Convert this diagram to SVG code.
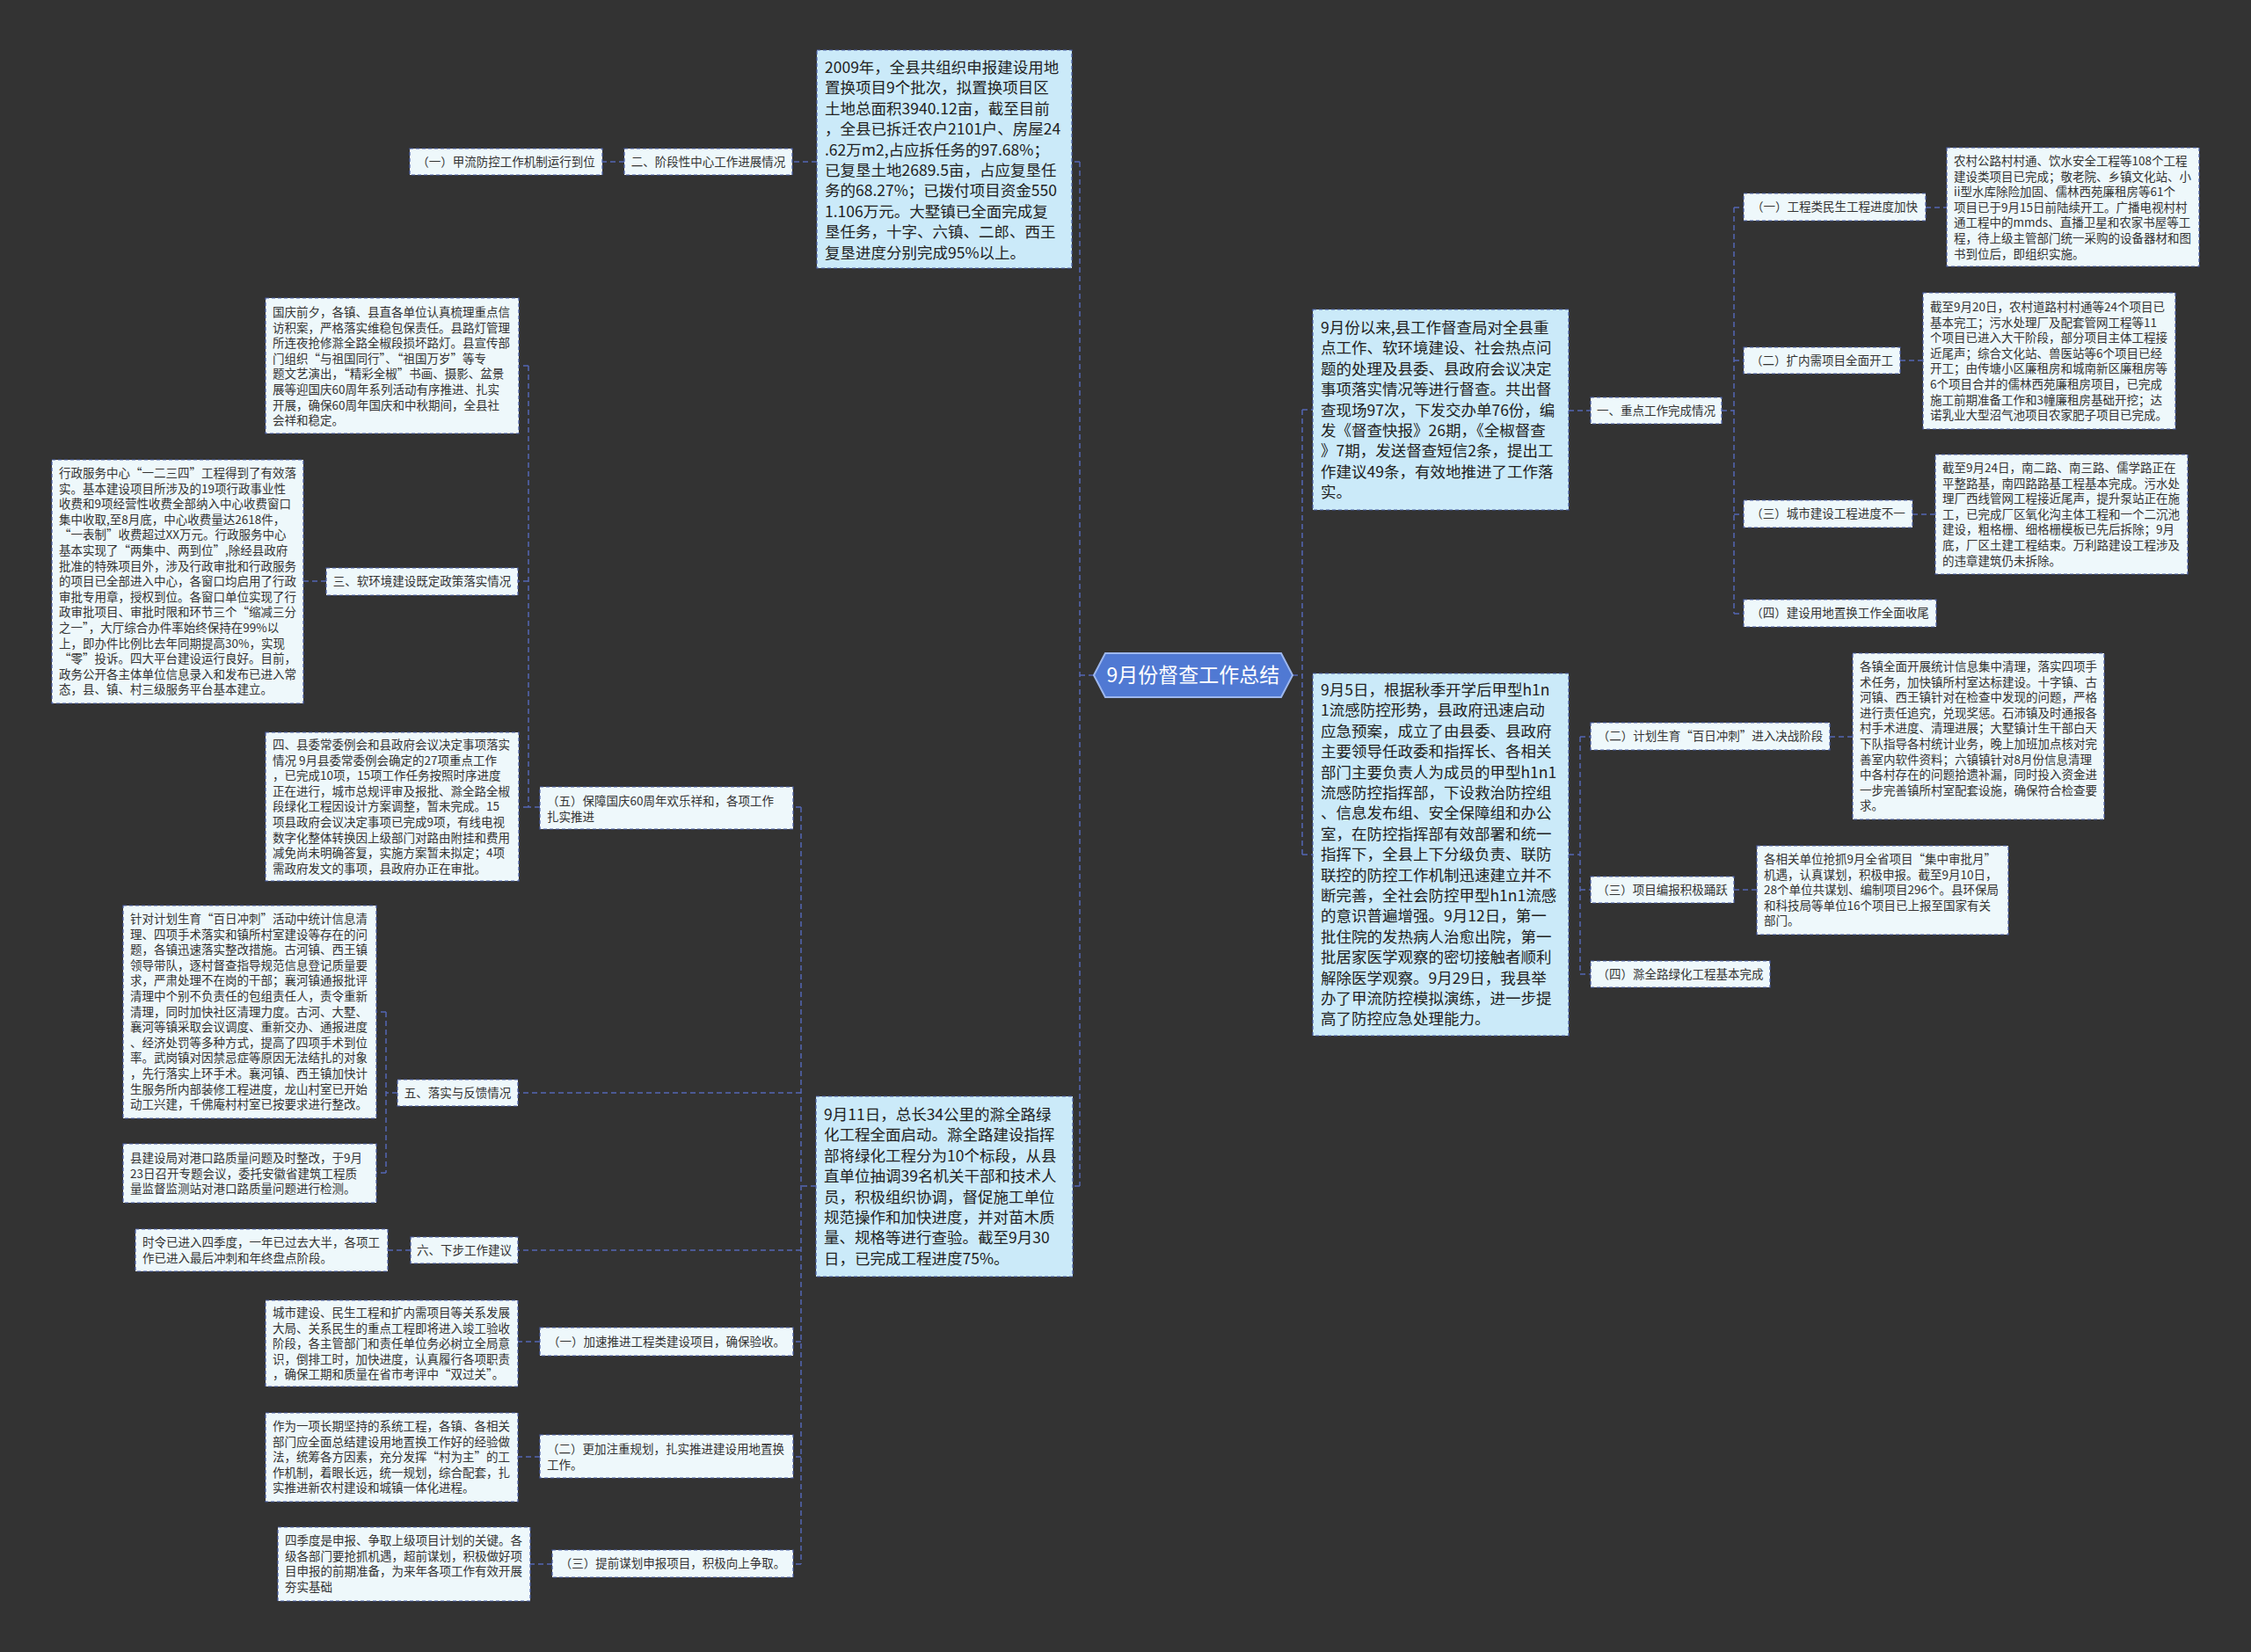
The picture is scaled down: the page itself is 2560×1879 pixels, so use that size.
<svg xmlns="http://www.w3.org/2000/svg" width="2560" height="1879" viewBox="0 0 2560 1879">
<style>
.box{stroke:#4a5ea6;stroke-width:1.2;stroke-dasharray:4 3}
.big{fill:#cbeaf9}
.sm{fill:#eef8fb}
text{font-family:"Noto Sans CJK SC","Noto Sans",sans-serif}
.tb{font-size:17.5px;fill:#222}
.ts{font-size:13.5px;fill:#333}
.tl{font-size:13.5px;fill:#333;text-anchor:middle}
.conn path{fill:none;stroke:#5467b5;stroke-width:1.5;stroke-dasharray:6 4}
</style>
<rect width="2560" height="1879" fill="#333333"/>

<g class="conn">
<path d="M1244,768 H1228 M1228,184 V1349 M1228,184 H1219 M1228,1349 H1220"/>
<path d="M929,184 H901 M710,184 H685"/>
<path d="M928,1349 H911 M911,918 V1779 M911,918 H902 M911,1243 H589 M911,1422 H589 M911,1526 H902 M911,1657 H902 M911,1779 H902"/>
<path d="M614,918 H601 M601,416 V918 M601,416 H590 M601,661 H589 M601,918 H590"/>
<path d="M371,661 H345"/>
<path d="M452,1243 H439 M439,1151 V1334 M439,1151 H428 M439,1334 H428"/>
<path d="M467,1422 H441"/>
<path d="M614,1526 H589 M614,1657 H589 M628,1779 H603"/>
<path d="M1470,768 H1481 M1481,466 V972 M1481,466 H1493 M1481,972 H1493"/>
<path d="M1784,467 H1809 M1958,467 H1972 M1972,236 V698 M1972,236 H1983 M1972,410 H1983 M1972,585 H1983 M1972,698 H1983"/>
<path d="M2190,236 H2214 M2161,410 H2187 M2175,585 H2201"/>
<path d="M1784,972 H1797 M1797,838 V1108 M1797,838 H1809 M1797,1012 H1809 M1797,1108 H1809"/>
<path d="M2081,838 H2107 M1972,1012 H1998"/>
</g>

<g id="center">
<path d="M1244,768 L1257,743 H1457 L1470,768 L1457,793 H1257 Z" fill="#5079d3" stroke="#9db7ee" stroke-width="2"/>
<text x="1357" y="776" font-size="23" fill="#ffffff" text-anchor="middle">9月份督查工作总结</text>
</g>

<g id="n2009">
<rect class="box big" x="929" y="57" width="290" height="248"/>
<text class="tb" x="938" y="83"><tspan x="938" dy="0">2009年，全县共组织申报建设用地</tspan><tspan x="938" dy="23.4">置换项目9个批次，拟置换项目区</tspan><tspan x="938" dy="23.4">土地总面积3940.12亩，截至目前</tspan><tspan x="938" dy="23.4">，全县已拆迁农户2101户、房屋24</tspan><tspan x="938" dy="23.4">.62万m2,占应拆任务的97.68%；</tspan><tspan x="938" dy="23.4">已复垦土地2689.5亩，占应复垦任</tspan><tspan x="938" dy="23.4">务的68.27%；已拨付项目资金550</tspan><tspan x="938" dy="23.4">1.106万元。大墅镇已全面完成复</tspan><tspan x="938" dy="23.4">垦任务，十字、六镇、二郎、西王</tspan><tspan x="938" dy="23.4">复垦进度分别完成95%以上。</tspan></text>
</g>

<g id="l-er">
<rect class="box sm" x="710" y="169" width="191" height="30"/>
<text class="tl" x="805.5" y="189">二、阶段性中心工作进展情况</text>
</g>
<g id="l-yi-jialiu">
<rect class="box sm" x="466" y="169" width="219" height="30"/>
<text class="tl" x="575.5" y="189">（一）甲流防控工作机制运行到位</text>
</g>

<g id="d-guoqing">
<rect class="box sm" x="302" y="339" width="288" height="154"/>
<text class="ts" x="310" y="360"><tspan x="310" dy="0">国庆前夕，各镇、县直各单位认真梳理重点信</tspan><tspan x="310" dy="17.6">访积案，严格落实维稳包保责任。县路灯管理</tspan><tspan x="310" dy="17.6">所连夜抢修滁全路全椒段损坏路灯。县宣传部</tspan><tspan x="310" dy="17.6">门组织“与祖国同行”、“祖国万岁”等专</tspan><tspan x="310" dy="17.6">题文艺演出，“精彩全椒”书画、摄影、盆景</tspan><tspan x="310" dy="17.6">展等迎国庆60周年系列活动有序推进、扎实</tspan><tspan x="310" dy="17.6">开展，确保60周年国庆和中秋期间，全县社</tspan><tspan x="310" dy="17.6">会祥和稳定。</tspan></text>
</g>

<g id="l-san">
<rect class="box sm" x="371" y="646" width="218" height="31"/>
<text class="tl" x="480" y="666">三、软环境建设既定政策落实情况</text>
</g>
<g id="d-xingzheng">
<rect class="box sm" x="59" y="523" width="286" height="277"/>
<text class="ts" x="67" y="543"><tspan x="67" dy="0">行政服务中心“一二三四”工程得到了有效落</tspan><tspan x="67" dy="17.6">实。基本建设项目所涉及的19项行政事业性</tspan><tspan x="67" dy="17.6">收费和9项经营性收费全部纳入中心收费窗口</tspan><tspan x="67" dy="17.6">集中收取,至8月底，中心收费量达2618件，</tspan><tspan x="67" dy="17.6">“一表制”收费超过XX万元。行政服务中心</tspan><tspan x="67" dy="17.6">基本实现了“两集中、两到位”,除经县政府</tspan><tspan x="67" dy="17.6">批准的特殊项目外，涉及行政审批和行政服务</tspan><tspan x="67" dy="17.6">的项目已全部进入中心，各窗口均启用了行政</tspan><tspan x="67" dy="17.6">审批专用章，授权到位。各窗口单位实现了行</tspan><tspan x="67" dy="17.6">政审批项目、审批时限和环节三个“缩减三分</tspan><tspan x="67" dy="17.6">之一”，大厅综合办件率始终保持在99%以</tspan><tspan x="67" dy="17.6">上，即办件比例比去年同期提高30%，实现</tspan><tspan x="67" dy="17.6">“零”投诉。四大平台建设运行良好。目前，</tspan><tspan x="67" dy="17.6">政务公开各主体单位信息录入和发布已进入常</tspan><tspan x="67" dy="17.6">态，县、镇、村三级服务平台基本建立。</tspan></text>
</g>

<g id="d-si">
<rect class="box sm" x="302" y="833" width="288" height="169"/>
<text class="ts" x="310" y="852"><tspan x="310" dy="0">四、县委常委例会和县政府会议决定事项落实</tspan><tspan x="310" dy="17.6">情况 9月县委常委例会确定的27项重点工作</tspan><tspan x="310" dy="17.6">，已完成10项，15项工作任务按照时序进度</tspan><tspan x="310" dy="17.6">正在进行，城市总规评审及报批、滁全路全椒</tspan><tspan x="310" dy="17.6">段绿化工程因设计方案调整，暂未完成。15</tspan><tspan x="310" dy="17.6">项县政府会议决定事项已完成9项，有线电视</tspan><tspan x="310" dy="17.6">数字化整体转换因上级部门对路由附挂和费用</tspan><tspan x="310" dy="17.6">减免尚未明确答复，实施方案暂未拟定；4项</tspan><tspan x="310" dy="17.6">需政府发文的事项，县政府办正在审批。</tspan></text>
</g>

<g id="l-wu-guoqing">
<rect class="box sm" x="614" y="895" width="288" height="48"/>
<text class="ts" x="622" y="916"><tspan x="622" dy="0">（五）保障国庆60周年欢乐祥和，各项工作</tspan><tspan x="622" dy="17.6">扎实推进</tspan></text>
</g>

<g id="l-wu-luoshi">
<rect class="box sm" x="452" y="1228" width="137" height="30"/>
<text class="tl" x="520.5" y="1248">五、落实与反馈情况</text>
</g>
<g id="d-jihua">
<rect class="box sm" x="140" y="1030" width="288" height="242"/>
<text class="ts" x="148" y="1050"><tspan x="148" dy="0">针对计划生育“百日冲刺”活动中统计信息清</tspan><tspan x="148" dy="17.6">理、四项手术落实和镇所村室建设等存在的问</tspan><tspan x="148" dy="17.6">题，各镇迅速落实整改措施。古河镇、西王镇</tspan><tspan x="148" dy="17.6">领导带队，逐村督查指导规范信息登记质量要</tspan><tspan x="148" dy="17.6">求，严肃处理不在岗的干部；襄河镇通报批评</tspan><tspan x="148" dy="17.6">清理中个别不负责任的包组责任人，责令重新</tspan><tspan x="148" dy="17.6">清理，同时加快社区清理力度。古河、大墅、</tspan><tspan x="148" dy="17.6">襄河等镇采取会议调度、重新交办、通报进度</tspan><tspan x="148" dy="17.6">、经济处罚等多种方式，提高了四项手术到位</tspan><tspan x="148" dy="17.6">率。武岗镇对因禁忌症等原因无法结扎的对象</tspan><tspan x="148" dy="17.6">，先行落实上环手术。襄河镇、西王镇加快计</tspan><tspan x="148" dy="17.6">生服务所内部装修工程进度，龙山村室已开始</tspan><tspan x="148" dy="17.6">动工兴建，千佛庵村村室已按要求进行整改。</tspan></text>
</g>
<g id="d-jianshe">
<rect class="box sm" x="140" y="1301" width="288" height="67"/>
<text class="ts" x="148" y="1322"><tspan x="148" dy="0">县建设局对港口路质量问题及时整改，于9月</tspan><tspan x="148" dy="17.6">23日召开专题会议，委托安徽省建筑工程质</tspan><tspan x="148" dy="17.6">量监督监测站对港口路质量问题进行检测。</tspan></text>
</g>

<g id="l-liu">
<rect class="box sm" x="467" y="1407" width="122" height="30"/>
<text class="tl" x="528" y="1427">六、下步工作建议</text>
</g>
<g id="d-shiling">
<rect class="box sm" x="154" y="1398" width="287" height="48"/>
<text class="ts" x="162" y="1418"><tspan x="162" dy="0">时令已进入四季度，一年已过去大半，各项工</tspan><tspan x="162" dy="17.6">作已进入最后冲刺和年终盘点阶段。</tspan></text>
</g>

<g id="l-yi-jiasu">
<rect class="box sm" x="614" y="1510" width="288" height="32"/>
<text class="tl" x="758" y="1531">（一）加速推进工程类建设项目，确保验收。</text>
</g>
<g id="d-chengshi">
<rect class="box sm" x="302" y="1479" width="287" height="98"/>
<text class="ts" x="310" y="1498"><tspan x="310" dy="0">城市建设、民生工程和扩内需项目等关系发展</tspan><tspan x="310" dy="17.6">大局、关系民生的重点工程即将进入竣工验收</tspan><tspan x="310" dy="17.6">阶段，各主管部门和责任单位务必树立全局意</tspan><tspan x="310" dy="17.6">识，倒排工时，加快进度，认真履行各项职责</tspan><tspan x="310" dy="17.6">，确保工期和质量在省市考评中“双过关”。</tspan></text>
</g>

<g id="l-er-guihua">
<rect class="box sm" x="614" y="1632" width="288" height="49"/>
<text class="ts" x="622" y="1653"><tspan x="622" dy="0">（二）更加注重规划，扎实推进建设用地置换</tspan><tspan x="622" dy="17.6">工作。</tspan></text>
</g>
<g id="d-zuowei">
<rect class="box sm" x="302" y="1607" width="287" height="101"/>
<text class="ts" x="310" y="1627"><tspan x="310" dy="0">作为一项长期坚持的系统工程，各镇、各相关</tspan><tspan x="310" dy="17.6">部门应全面总结建设用地置换工作好的经验做</tspan><tspan x="310" dy="17.6">法，统筹各方因素，充分发挥“村为主”的工</tspan><tspan x="310" dy="17.6">作机制，着眼长远，统一规划，综合配套，扎</tspan><tspan x="310" dy="17.6">实推进新农村建设和城镇一体化进程。</tspan></text>
</g>

<g id="l-san-tiqian">
<rect class="box sm" x="628" y="1763" width="274" height="31"/>
<text class="tl" x="765" y="1783">（三）提前谋划申报项目，积极向上争取。</text>
</g>
<g id="d-sijidu">
<rect class="box sm" x="316" y="1737" width="287" height="84"/>
<text class="ts" x="324" y="1757"><tspan x="324" dy="0">四季度是申报、争取上级项目计划的关键。各</tspan><tspan x="324" dy="17.6">级各部门要抢抓机遇，超前谋划，积极做好项</tspan><tspan x="324" dy="17.6">目申报的前期准备，为来年各项工作有效开展</tspan><tspan x="324" dy="17.6">夯实基础</tspan></text>
</g>

<g id="n911">
<rect class="box big" x="928" y="1247" width="292" height="205"/>
<text class="tb" x="937" y="1274"><tspan x="937" dy="0">9月11日，总长34公里的滁全路绿</tspan><tspan x="937" dy="23.4">化工程全面启动。滁全路建设指挥</tspan><tspan x="937" dy="23.4">部将绿化工程分为10个标段，从县</tspan><tspan x="937" dy="23.4">直单位抽调39名机关干部和技术人</tspan><tspan x="937" dy="23.4">员，积极组织协调，督促施工单位</tspan><tspan x="937" dy="23.4">规范操作和加快进度，并对苗木质</tspan><tspan x="937" dy="23.4">量、规格等进行查验。截至9月30</tspan><tspan x="937" dy="23.4">日，已完成工程进度75%。</tspan></text>
</g>

<g id="n9yuefen">
<rect class="box big" x="1493" y="352" width="291" height="228"/>
<text class="tb" x="1502" y="379"><tspan x="1502" dy="0">9月份以来,县工作督查局对全县重</tspan><tspan x="1502" dy="23.4">点工作、软环境建设、社会热点问</tspan><tspan x="1502" dy="23.4">题的处理及县委、县政府会议决定</tspan><tspan x="1502" dy="23.4">事项落实情况等进行督查。共出督</tspan><tspan x="1502" dy="23.4">查现场97次，下发交办单76份，编</tspan><tspan x="1502" dy="23.4">发《督查快报》26期，《全椒督查</tspan><tspan x="1502" dy="23.4">》7期，发送督查短信2条，提出工</tspan><tspan x="1502" dy="23.4">作建议49条，有效地推进了工作落</tspan><tspan x="1502" dy="23.4">实。</tspan></text>
</g>

<g id="n95">
<rect class="box big" x="1493" y="766" width="291" height="412"/>
<text class="tb" x="1502" y="791"><tspan x="1502" dy="0">9月5日，根据秋季开学后甲型h1n</tspan><tspan x="1502" dy="23.4">1流感防控形势，县政府迅速启动</tspan><tspan x="1502" dy="23.4">应急预案，成立了由县委、县政府</tspan><tspan x="1502" dy="23.4">主要领导任政委和指挥长、各相关</tspan><tspan x="1502" dy="23.4">部门主要负责人为成员的甲型h1n1</tspan><tspan x="1502" dy="23.4">流感防控指挥部，下设救治防控组</tspan><tspan x="1502" dy="23.4">、信息发布组、安全保障组和办公</tspan><tspan x="1502" dy="23.4">室，在防控指挥部有效部署和统一</tspan><tspan x="1502" dy="23.4">指挥下，全县上下分级负责、联防</tspan><tspan x="1502" dy="23.4">联控的防控工作机制迅速建立并不</tspan><tspan x="1502" dy="23.4">断完善，全社会防控甲型h1n1流感</tspan><tspan x="1502" dy="23.4">的意识普遍增强。9月12日，第一</tspan><tspan x="1502" dy="23.4">批住院的发热病人治愈出院，第一</tspan><tspan x="1502" dy="23.4">批居家医学观察的密切接触者顺利</tspan><tspan x="1502" dy="23.4">解除医学观察。9月29日，我县举</tspan><tspan x="1502" dy="23.4">办了甲流防控模拟演练，进一步提</tspan><tspan x="1502" dy="23.4">高了防控应急处理能力。</tspan></text>
</g>

<g id="l-yi-zhongdian">
<rect class="box sm" x="1809" y="452" width="149" height="30"/>
<text class="tl" x="1883.5" y="472">一、重点工作完成情况</text>
</g>
<g id="l-r-yi">
<rect class="box sm" x="1983" y="220" width="207" height="31"/>
<text class="tl" x="2086.5" y="240">（一）工程类民生工程进度加快</text>
</g>
<g id="d-nongcun">
<rect class="box sm" x="2214" y="168" width="287" height="135"/>
<text class="ts" x="2222" y="188"><tspan x="2222" dy="0">农村公路村村通、饮水安全工程等108个工程</tspan><tspan x="2222" dy="17.6">建设类项目已完成；敬老院、乡镇文化站、小</tspan><tspan x="2222" dy="17.6">ii型水库除险加固、儒林西苑廉租房等61个</tspan><tspan x="2222" dy="17.6">项目已于9月15日前陆续开工。广播电视村村</tspan><tspan x="2222" dy="17.6">通工程中的mmds、直播卫星和农家书屋等工</tspan><tspan x="2222" dy="17.6">程，待上级主管部门统一采购的设备器材和图</tspan><tspan x="2222" dy="17.6">书到位后，即组织实施。</tspan></text>
</g>
<g id="l-r-er">
<rect class="box sm" x="1983" y="395" width="178" height="30"/>
<text class="tl" x="2072" y="415">（二）扩内需项目全面开工</text>
</g>
<g id="d-jiezhi20">
<rect class="box sm" x="2187" y="333" width="287" height="155"/>
<text class="ts" x="2195" y="354"><tspan x="2195" dy="0">截至9月20日，农村道路村村通等24个项目已</tspan><tspan x="2195" dy="17.6">基本完工；污水处理厂及配套管网工程等11</tspan><tspan x="2195" dy="17.6">个项目已进入大干阶段，部分项目主体工程接</tspan><tspan x="2195" dy="17.6">近尾声；综合文化站、兽医站等6个项目已经</tspan><tspan x="2195" dy="17.6">开工；由传塘小区廉租房和城南新区廉租房等</tspan><tspan x="2195" dy="17.6">6个项目合并的儒林西苑廉租房项目，已完成</tspan><tspan x="2195" dy="17.6">施工前期准备工作和3幢廉租房基础开挖；达</tspan><tspan x="2195" dy="17.6">诺乳业大型沼气池项目农家肥子项目已完成。</tspan></text>
</g>
<g id="l-r-san">
<rect class="box sm" x="1983" y="569" width="192" height="31"/>
<text class="tl" x="2079" y="589">（三）城市建设工程进度不一</text>
</g>
<g id="d-jiezhi24">
<rect class="box sm" x="2201" y="517" width="287" height="136"/>
<text class="ts" x="2209" y="537"><tspan x="2209" dy="0">截至9月24日，南二路、南三路、儒学路正在</tspan><tspan x="2209" dy="17.6">平整路基，南四路路基工程基本完成。污水处</tspan><tspan x="2209" dy="17.6">理厂西线管网工程接近尾声，提升泵站正在施</tspan><tspan x="2209" dy="17.6">工，已完成厂区氧化沟主体工程和一个二沉池</tspan><tspan x="2209" dy="17.6">建设，粗格栅、细格栅模板已先后拆除；9月</tspan><tspan x="2209" dy="17.6">底，厂区土建工程结束。万利路建设工程涉及</tspan><tspan x="2209" dy="17.6">的违章建筑仍未拆除。</tspan></text>
</g>
<g id="l-r-si">
<rect class="box sm" x="1983" y="682" width="219" height="31"/>
<text class="tl" x="2092.5" y="702">（四）建设用地置换工作全面收尾</text>
</g>

<g id="l-r2-er">
<rect class="box sm" x="1809" y="822" width="272" height="31"/>
<text class="tl" x="1945" y="842">（二）计划生育“百日冲刺”进入决战阶段</text>
</g>
<g id="d-gezhen">
<rect class="box sm" x="2107" y="743" width="286" height="189"/>
<text class="ts" x="2115" y="763"><tspan x="2115" dy="0">各镇全面开展统计信息集中清理，落实四项手</tspan><tspan x="2115" dy="17.6">术任务，加快镇所村室达标建设。十字镇、古</tspan><tspan x="2115" dy="17.6">河镇、西王镇针对在检查中发现的问题，严格</tspan><tspan x="2115" dy="17.6">进行责任追究，兑现奖惩。石沛镇及时通报各</tspan><tspan x="2115" dy="17.6">村手术进度、清理进展；大墅镇计生干部白天</tspan><tspan x="2115" dy="17.6">下队指导各村统计业务，晚上加班加点核对完</tspan><tspan x="2115" dy="17.6">善室内软件资料；六镇镇针对8月份信息清理</tspan><tspan x="2115" dy="17.6">中各村存在的问题拾遗补漏，同时投入资金进</tspan><tspan x="2115" dy="17.6">一步完善镇所村室配套设施，确保符合检查要</tspan><tspan x="2115" dy="17.6">求。</tspan></text>
</g>
<g id="l-r2-san">
<rect class="box sm" x="1809" y="997" width="163" height="30"/>
<text class="tl" x="1890.5" y="1017">（三）项目编报积极踊跃</text>
</g>
<g id="d-gexiangguan">
<rect class="box sm" x="1998" y="962" width="286" height="101"/>
<text class="ts" x="2006" y="982"><tspan x="2006" dy="0">各相关单位抢抓9月全省项目“集中审批月”</tspan><tspan x="2006" dy="17.6">机遇，认真谋划，积极申报。截至9月10日，</tspan><tspan x="2006" dy="17.6">28个单位共谋划、编制项目296个。县环保局</tspan><tspan x="2006" dy="17.6">和科技局等单位16个项目已上报至国家有关</tspan><tspan x="2006" dy="17.6">部门。</tspan></text>
</g>
<g id="l-r2-si">
<rect class="box sm" x="1809" y="1093" width="204" height="30"/>
<text class="tl" x="1911" y="1113">（四）滁全路绿化工程基本完成</text>
</g>
</svg>
